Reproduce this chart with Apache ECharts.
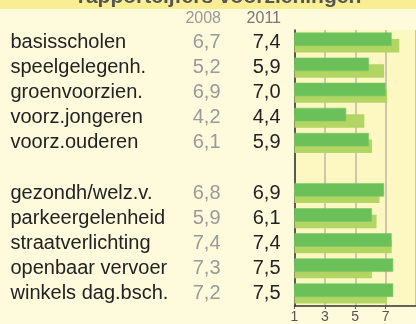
<!DOCTYPE html>
<html>
<head>
<meta charset="utf-8">
<script src="https://cdn.jsdelivr.net/npm/echarts@6/dist/echarts.min.js"></script>
<style>
  html, body { margin: 0; padding: 0; background: #fefbdc; }
  #chart { width: 416px; height: 324px; }
</style>
</head>
<body>
<div id="chart"></div>
<script>
// Rapportcijfers per voorziening (empty category = spacer row)
const categories = ['basisscholen', 'speelgelegenh.', 'groenvoorzien.', 'voorz.jongeren', 'voorz.ouderen', '',
  'gezondh/welz.v.', 'parkeergelenheid', 'straatverlichting', 'openbaar vervoer', 'winkels dag.bsch.'];
const years = ['2008', '2011'];
const scores2008 = [6.7, 5.2, 6.9, 4.2, 6.1, null, 6.8, 5.9, 7.4, 7.3, 7.2];
const scores2011 = [7.4, 5.9, 7.0, 4.4, 5.9, null, 6.9, 6.1, 7.4, 7.5, 7.5];
const gemiddeld = [7.9, 6.9, 7.1, 5.6, 6.1, null, 6.6, 6.4, 7.4, 6.1, 7.1];
const xTicks = [1, 3, 5, 7, 9];

const fmt = v => (v == null ? '' : v.toFixed(1).replace('.', ','));

const chart = echarts.init(document.getElementById('chart'), null, { renderer: 'canvas' });

chart.setOption({
  backgroundColor: '#fefbdc',
  animation: false,
  graphic: [
    { type: 'rect', z: -10, shape: { x: 0, y: 0, width: 416, height: 9 }, style: { fill: '#f9ee94' } },
    { type: 'text', z: 10, style: { x: 219.5, y: 8, text: 'rapportcijfers voorzieningen', align: 'center',
      verticalAlign: 'bottom', font: 'bold 21px "Liberation Sans"', fill: '#555555' } },
    { type: 'text', style: { x: 221, y: 19, text: years[0], align: 'right', verticalAlign: 'middle',
      font: '16px "Liberation Sans"', fill: '#999999' } },
    { type: 'text', style: { x: 281, y: 19, text: years[1], align: 'right', verticalAlign: 'middle',
      font: '16px "Liberation Sans"', fill: '#777777' } }
  ],
  grid: {
    left: 294.5, right: -4.5, top: 30, bottom: 16,
    show: true, backgroundColor: '#fdf7c2', borderWidth: 0
  },
  xAxis: {
    type: 'value', min: xTicks[0], max: xTicks[xTicks.length - 1], interval: 2,
    axisLine: { show: true, lineStyle: { color: '#333333', width: 1.5 } },
    axisTick: { show: true, length: 3, lineStyle: { color: '#555555' } },
    axisLabel: { color: '#555555', fontSize: 14, fontFamily: 'Liberation Sans', margin: 4, showMaxLabel: false },
    splitLine: { show: true, lineStyle: { color: '#bdb9a6', width: 1.5 } }
  },
  yAxis: {
    type: 'category', data: categories, inverse: true,
    axisLine: { show: true, lineStyle: { color: '#333333', width: 1.5 } },
    axisTick: { show: false },
    axisLabel: {
      margin: 14,
      formatter: (value, idx) => `{n|${value}}{a|${fmt(scores2008[idx])}}{b|${fmt(scores2011[idx])}}`,
      rich: {
        n: { width: 170, align: 'left', fontSize: 20, fontFamily: 'Liberation Sans', color: '#222222' },
        a: { width: 40, align: 'right', fontSize: 20, fontFamily: 'Liberation Sans', color: '#9a9a9a' },
        b: { width: 60, align: 'right', fontSize: 20, fontFamily: 'Liberation Sans', color: '#222222' }
      }
    }
  },
  series: [
    {
      name: '2011', type: 'bar', data: scores2011, z: 3,
      barWidth: 13.5, barGap: '-52%',
      itemStyle: { color: '#6cc05a', borderColor: '#7cc866', borderWidth: 0.6 }
    },
    {
      name: 'gemiddeld', type: 'bar', data: gemiddeld, z: 2,
      barWidth: 13.5, barGap: '-52%',
      itemStyle: { color: '#b2d563' }
    }
  ]
});
</script>
</body>
</html>
